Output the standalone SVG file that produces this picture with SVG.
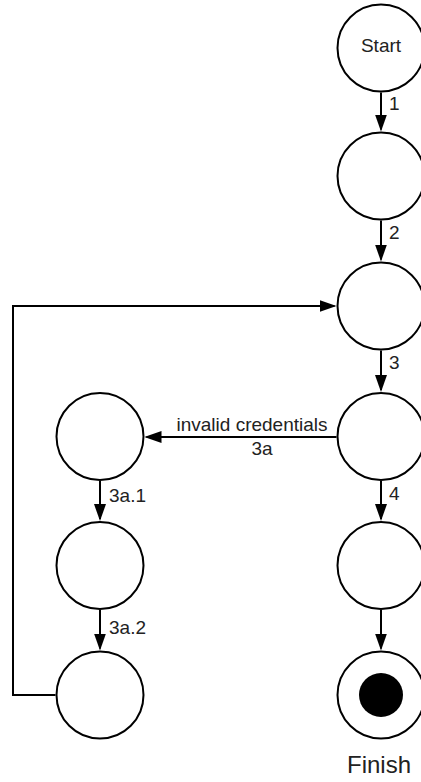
<svg xmlns="http://www.w3.org/2000/svg" width="421" height="782" viewBox="0 0 421 782">
  <style>
    .node { fill: #ffffff; stroke: #000000; stroke-width: 2; }
    .conn { fill: none; stroke: #000000; stroke-width: 2; }
    .lbl { font-family: "Liberation Sans", Arial, sans-serif; font-size: 19px; fill: #222222; }
    .mid { text-anchor: middle; }
  </style>
  <defs>
    <marker id="arrow" markerUnits="userSpaceOnUse" markerWidth="17" markerHeight="12" refX="15" refY="6" orient="auto">
      <path d="M0,0 L17,6 L0,12 Z" fill="#000000"/>
    </marker>
  </defs>
  <rect width="421" height="782" fill="#ffffff"/>

  <g id="connectors">
    <line class="conn" x1="381" y1="92.5" x2="381" y2="129.5" marker-end="url(#arrow)"/>
    <line class="conn" x1="381" y1="220.5" x2="381" y2="259.5" marker-end="url(#arrow)"/>
    <line class="conn" x1="381" y1="350.5" x2="381" y2="390" marker-end="url(#arrow)"/>
    <line class="conn" x1="381" y1="481" x2="381" y2="519" marker-end="url(#arrow)"/>
    <line class="conn" x1="381" y1="610" x2="381" y2="648.5" marker-end="url(#arrow)"/>
    <line class="conn" x1="100" y1="481" x2="100" y2="519" marker-end="url(#arrow)"/>
    <line class="conn" x1="100" y1="610" x2="100" y2="648.5" marker-end="url(#arrow)"/>
    <line class="conn" x1="336.5" y1="437" x2="146.5" y2="437" marker-end="url(#arrow)"/>
    <polyline class="conn" points="55.5,695 13,695 13,306 334.5,306" marker-end="url(#arrow)"/>
    <text class="lbl" x="389" y="110">1</text>
    <text class="lbl" x="389" y="239">2</text>
    <text class="lbl" x="389" y="369">3</text>
    <text class="lbl" x="389" y="500">4</text>
    <text class="lbl" x="109" y="502">3a.1</text>
    <text class="lbl" x="109" y="634">3a.2</text>
    <text class="lbl mid" x="252" y="431">invalid credentials</text>
    <text class="lbl mid" x="262" y="455">3a</text>
  </g>

  <g id="start">
    <circle class="node" cx="381" cy="48" r="43.5"/>
    <text class="lbl mid" x="381" y="52">Start</text>
  </g>
  <g id="step2">
    <circle class="node" cx="381" cy="176" r="43.5"/>
  </g>
  <g id="step3">
    <circle class="node" cx="381" cy="306" r="43.5"/>
  </g>
  <g id="step4">
    <circle class="node" cx="381" cy="436.5" r="43.5"/>
  </g>
  <g id="step5">
    <circle class="node" cx="381" cy="565.5" r="43.5"/>
  </g>
  <g id="finish">
    <circle class="node" cx="381" cy="695" r="43.5"/>
    <circle cx="381" cy="695" r="22" fill="#000000"/>
    <text class="lbl mid" x="379" y="773" style="font-size:24px">Finish</text>
  </g>
  <g id="alt1">
    <circle class="node" cx="100" cy="436.5" r="43.5"/>
  </g>
  <g id="alt2">
    <circle class="node" cx="100" cy="565.5" r="43.5"/>
  </g>
  <g id="alt3">
    <circle class="node" cx="100" cy="695" r="43.5"/>
  </g>
</svg>
